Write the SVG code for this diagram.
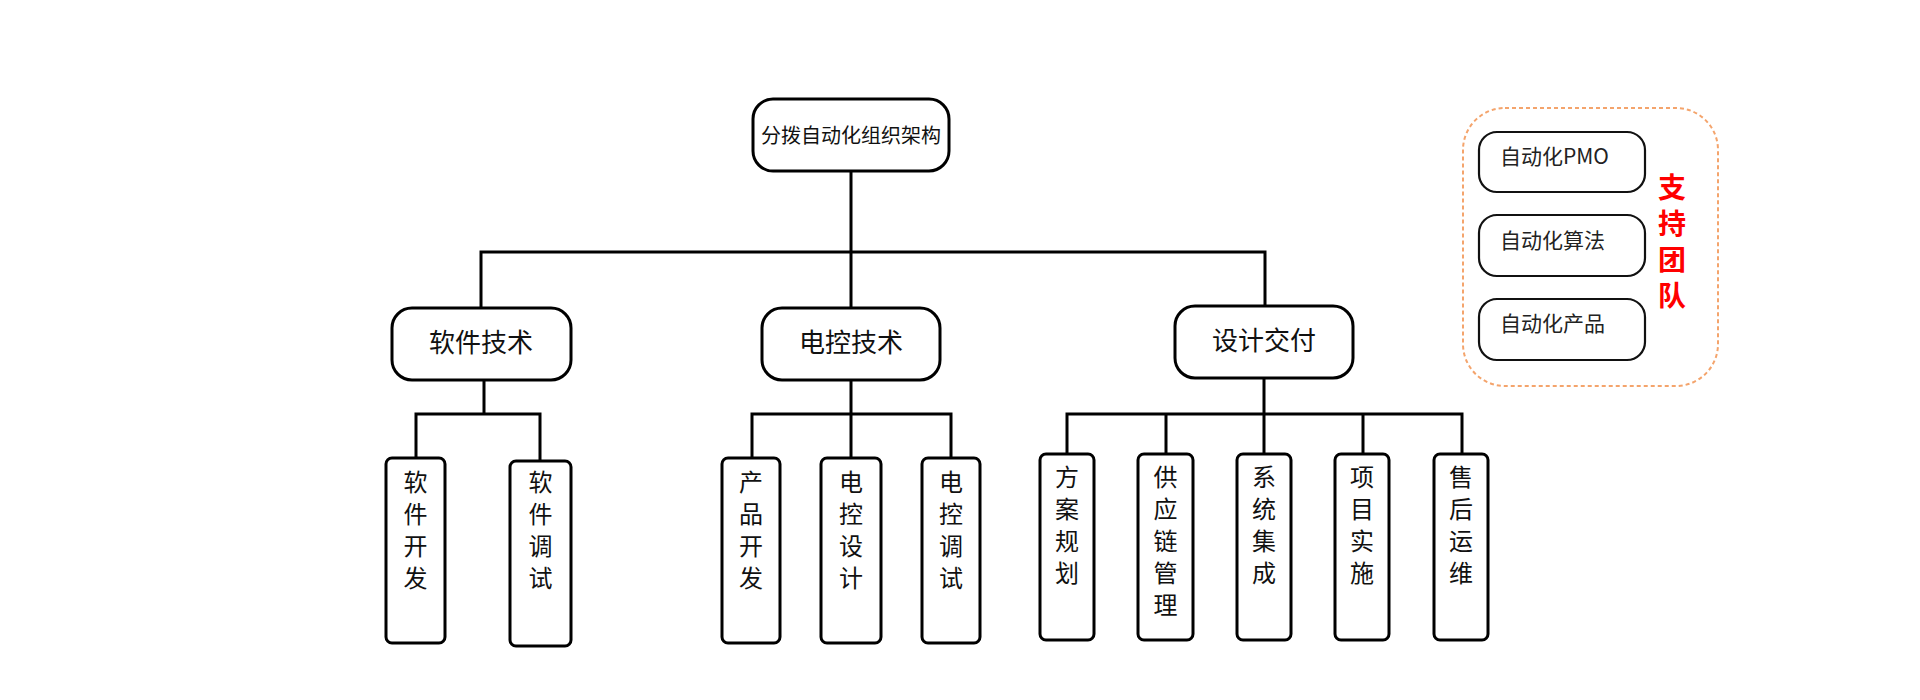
<svg xmlns="http://www.w3.org/2000/svg" width="1920" height="700" viewBox="0 0 1920 700">
<style>
.box{fill:#fff;stroke:#000;stroke-width:3}
.sbox{fill:#fff;stroke:#111;stroke-width:2.2}
.t{font-family:"Noto Sans CJK SC","Noto Sans",sans-serif;fill:#111;text-anchor:middle}
.root{font-size:20px}
.l2{font-size:26px}
.l3{font-size:24px}
.st{font-family:"Noto Sans CJK SC","Noto Sans",sans-serif;fill:#222;font-size:21px}
.red{font-family:"Noto Sans CJK SC",sans-serif;fill:#f00;font-size:28px;font-weight:bold;writing-mode:vertical-rl;letter-spacing:8px}
.conn{fill:none;stroke:#000;stroke-width:3;stroke-linejoin:miter;stroke-linecap:square}
</style>
<rect width="1920" height="700" fill="#fff"/>
<g id="connectors" class="conn">
<path d="M851 171V252M481 308V252H1265V306M851 252V308"/>
<path d="M484 380V414M416 458V414H540V461"/>
<path d="M851 380V458M752 458V414H951V458"/>
<path d="M1264 378V454M1067 454V414H1462V454M1166 414V454M1363 414V454"/>
</g>
<g id="root"><rect class="box" x="753" y="99" width="196" height="72" rx="20"/><text class="t root" x="851" y="143">分拨自动化组织架构</text></g>
<g id="n-software"><rect class="box" x="392" y="308" width="179" height="72" rx="20"/><text class="t l2" x="481" y="352">软件技术</text></g>
<g id="n-control"><rect class="box" x="762" y="308" width="178" height="72" rx="20"/><text class="t l2" x="851" y="352">电控技术</text></g>
<g id="n-design"><rect class="box" x="1175" y="306" width="178" height="72" rx="20"/><text class="t l2" x="1264" y="350">设计交付</text></g>
<g id="n-swdev"><rect class="box" x="386" y="458" width="59" height="185" rx="6"/><text class="t l3" x="415.5" y="491"><tspan x="415.5">软</tspan><tspan x="415.5" dy="32">件</tspan><tspan x="415.5" dy="32">开</tspan><tspan x="415.5" dy="32">发</tspan></text></g>
<g id="n-swdebug"><rect class="box" x="510" y="461" width="61" height="185" rx="6"/><text class="t l3" x="540.5" y="491"><tspan x="540.5">软</tspan><tspan x="540.5" dy="32">件</tspan><tspan x="540.5" dy="32">调</tspan><tspan x="540.5" dy="32">试</tspan></text></g>
<g id="n-proddev"><rect class="box" x="722" y="458" width="58" height="185" rx="6"/><text class="t l3" x="751" y="491"><tspan x="751">产</tspan><tspan x="751" dy="32">品</tspan><tspan x="751" dy="32">开</tspan><tspan x="751" dy="32">发</tspan></text></g>
<g id="n-ecdesign"><rect class="box" x="821" y="458" width="60" height="185" rx="6"/><text class="t l3" x="851" y="491"><tspan x="851">电</tspan><tspan x="851" dy="32">控</tspan><tspan x="851" dy="32">设</tspan><tspan x="851" dy="32">计</tspan></text></g>
<g id="n-ecdebug"><rect class="box" x="922" y="458" width="58" height="185" rx="6"/><text class="t l3" x="951" y="491"><tspan x="951">电</tspan><tspan x="951" dy="32">控</tspan><tspan x="951" dy="32">调</tspan><tspan x="951" dy="32">试</tspan></text></g>
<g id="n-plan"><rect class="box" x="1040" y="454" width="54" height="186" rx="6"/><text class="t l3" x="1067" y="486"><tspan x="1067">方</tspan><tspan x="1067" dy="32">案</tspan><tspan x="1067" dy="32">规</tspan><tspan x="1067" dy="32">划</tspan></text></g>
<g id="n-supply"><rect class="box" x="1138" y="454" width="55" height="186" rx="6"/><text class="t l3" x="1165.5" y="486"><tspan x="1165.5">供</tspan><tspan x="1165.5" dy="32">应</tspan><tspan x="1165.5" dy="32">链</tspan><tspan x="1165.5" dy="32">管</tspan><tspan x="1165.5" dy="32">理</tspan></text></g>
<g id="n-integ"><rect class="box" x="1237" y="454" width="54" height="186" rx="6"/><text class="t l3" x="1264" y="486"><tspan x="1264">系</tspan><tspan x="1264" dy="32">统</tspan><tspan x="1264" dy="32">集</tspan><tspan x="1264" dy="32">成</tspan></text></g>
<g id="n-impl"><rect class="box" x="1335" y="454" width="54" height="186" rx="6"/><text class="t l3" x="1362" y="486"><tspan x="1362">项</tspan><tspan x="1362" dy="32">目</tspan><tspan x="1362" dy="32">实</tspan><tspan x="1362" dy="32">施</tspan></text></g>
<g id="n-after"><rect class="box" x="1434" y="454" width="54" height="186" rx="6"/><text class="t l3" x="1461" y="486"><tspan x="1461">售</tspan><tspan x="1461" dy="32">后</tspan><tspan x="1461" dy="32">运</tspan><tspan x="1461" dy="32">维</tspan></text></g>
<g id="support">
<rect x="1463" y="108" width="255" height="278" rx="42" fill="none" stroke="#f4a46c" stroke-width="2" stroke-dasharray="4 3"/>
<g id="s-pmo"><rect class="sbox" x="1479" y="132" width="166" height="60" rx="18"/><text class="st" x="1500" y="164">自动化PMO</text></g>
<g id="s-algo"><rect class="sbox" x="1479" y="215" width="166" height="61" rx="18"/><text class="st" x="1500" y="248">自动化算法</text></g>
<g id="s-prod"><rect class="sbox" x="1479" y="299" width="166" height="61" rx="18"/><text class="st" x="1500" y="331">自动化产品</text></g>
<text class="red" x="1672" y="173">支持团队</text>
</g>
</svg>
